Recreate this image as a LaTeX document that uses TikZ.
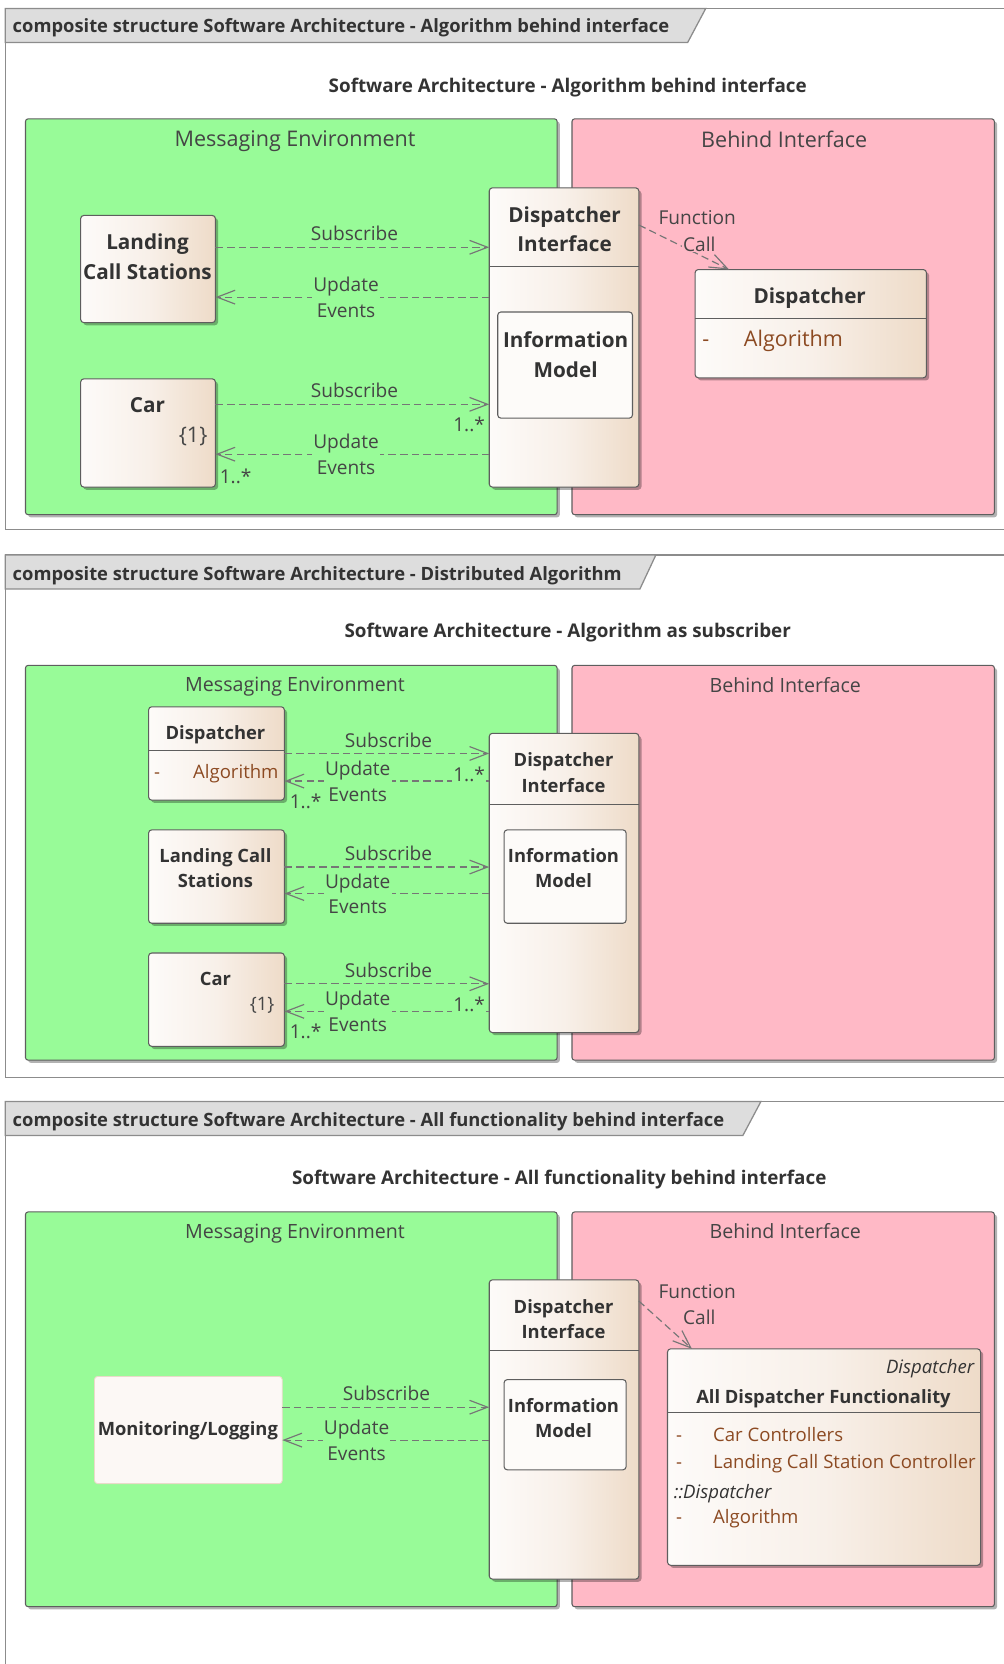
\documentclass[tikz,border=0pt]{standalone}
\usepackage{fontspec}
\setmainfont{Open Sans}
\usetikzlibrary{arrows.meta,shadows}

\definecolor{envgreen}{HTML}{98FB98}
\definecolor{behindpink}{HTML}{FFB9C6}
\definecolor{tabgray}{HTML}{DDDDDD}
\definecolor{framegray}{HTML}{8C8C8C}
\definecolor{edgegray}{HTML}{5E5E5E}
\definecolor{ink}{HTML}{333333}
\definecolor{inksoft}{HTML}{454545}
\definecolor{attr}{HTML}{8C4A22}
\definecolor{depgray}{HTML}{767676}
\definecolor{clsleft}{HTML}{FDFBF9}
\definecolor{clsmid}{HTML}{F8F0E9}
\definecolor{clsright}{HTML}{EEDBC8}
\definecolor{plainfill}{HTML}{FCF8F5}
\definecolor{plainedge}{HTML}{EADAC9}

% font sizes (1pt = 1 unit of the drawing)
\newcommand\tabfont{\bfseries\fontsize{17.3}{21}\selectfont}
\newcommand\titlefont{\bfseries\fontsize{17.75}{22}\selectfont}
\newcommand\envfontA{\fontsize{20.3}{26}\selectfont}
\newcommand\envfontB{\fontsize{18.5}{24}\selectfont}
\newcommand\elemfontA{\bfseries\fontsize{19.5}{28}\selectfont}
\newcommand\elemfontB{\bfseries\fontsize{17.3}{24}\selectfont}
\newcommand\attrfontA{\fontsize{20.3}{26}\selectfont}
\newcommand\attrfontB{\fontsize{17.5}{24}\selectfont}
\newcommand\lblfont{\fontsize{18}{24}\selectfont}

% a box node given by its corners: style, name, x1, y1, x2, y2
\newcommand\mkbox[6]{\node[#1, minimum width={#5-#3}, minimum height={#6-#4}] (#2) at ({(#3+#5)/2},{(#4+#6)/2}) {};}

\begin{document}
\begin{tikzpicture}[x=1pt,y=-1pt,
  boxbase/.style={rectangle, inner sep=0pt, outer sep=0pt},
  softshadow/.style={drop shadow={shadow xshift=2.5pt, shadow yshift=-2.5pt, fill=black, opacity=0.3}},
  frameline/.style={draw=framegray, line width=1.2pt},
  tabshape/.style={fill=tabgray, draw=framegray, line width=1.2pt, line join=miter},
  envbox/.style={boxbase, fill=envgreen, draw=edgegray, line width=1pt, rounded corners=2.5pt, softshadow},
  behindbox/.style={boxbase, fill=behindpink, draw=edgegray, line width=1pt, rounded corners=2.5pt, softshadow},
  classbox/.style={boxbase, draw=edgegray, line width=1pt, rounded corners=3pt, softshadow,
    left color=clsleft, right color=clsright, middle color=clsmid},
  partbox/.style={boxbase, fill=clsleft, draw=edgegray, line width=1pt, rounded corners=3pt},
  plainbox/.style={boxbase, fill=plainfill, draw=plainedge, line width=0.8pt, rounded corners=3pt},
  divider/.style={draw=edgegray, line width=1pt},
  txt/.style={inner sep=0pt, outer sep=0pt, text=ink, align=center, text depth=0pt},
  lbl/.style={txt, font=\lblfont, text=inksoft},
  mult/.style={txt, font=\lblfont, text=inksoft},
  dep/.style={draw=depgray, line width=1.1pt, dash pattern=on 7pt off 4pt,
    -{Straight Barb[length=17pt, width=13pt, line width=1.1pt]}},
]
\useasboundingbox (0,0) rectangle (946,1568);

%% ---------------- first frame ----------------
\draw[frameline] (960,8) -- (5,8) -- (5,499) -- (960,499);
\draw[tabshape] (5,8) -- (665,8) -- (648,40) -- (5,40) -- cycle;
\node[txt, anchor=west, font=\tabfont] (p1tab) at (12,24) {composite structure Software Architecture - Algorithm behind interface};
\node[txt, font=\titlefont] (p1title) at (535,80) {Software Architecture - Algorithm behind interface};

\mkbox{envbox}{p1env}{24}{112}{525}{485}
\mkbox{behindbox}{p1bhd}{539}{112}{937}{485}
\node[txt, font=\envfontA, text=inksoft] (p1envlbl) at (278,131) {Messaging Environment};
\node[txt, font=\envfontA, text=inksoft] (p1bhdlbl) at (739,131) {Behind Interface};

\mkbox{classbox}{p1lcs}{76}{203}{203}{304}
\node[txt, font=\elemfontA] (p1lcst) at (139,242) {Landing\\Call Stations};

\mkbox{classbox}{p1car}{76}{357}{203}{459}
\node[txt, font=\elemfontA] (p1cart) at (139,382) {Car};
\node[txt, font=\attrfontA, text=inksoft] (p1carm) at (182,410) {\{1\}};

\mkbox{classbox}{p1di}{461}{177}{602}{459}
\draw[divider] (461,251) -- (602,251);
\node[txt, font=\elemfontA] (p1dit) at (532,216) {Dispatcher\\Interface};
\mkbox{partbox}{p1im}{469}{294}{596}{394}
\node[txt, font=\elemfontA] (p1imt) at (533,334) {Information\\Model};

\mkbox{classbox}{p1disp}{655}{254}{873}{356}
\draw[divider] (655,300) -- (873,300);
\node[txt, font=\elemfontA] (p1dispt) at (763,279) {Dispatcher};
\node[txt, font=\attrfontA, text=attr, anchor=west] (p1alg) at (701,319) {Algorithm};
\node[txt, font=\attrfontA, text=attr, anchor=base] (p1dash) at (p1alg.base -| 665,0) {-};

% connectors
\coordinate (p1a) at ([yshift=20.5pt]p1lcs.east);
\draw[dep] (p1a) -- (p1a -| p1di.west) node[lbl, pos=.508, anchor=south, yshift=6pt] (p1l1) {Subscribe};
\coordinate (p1b) at ([yshift=-26.5pt]p1lcs.east);
\draw[dep] (p1b -| p1di.west) -- (p1b) node[lbl, fill=envgreen, inner sep=1pt, pos=.523] (p1l2) {Update\\Events};
\coordinate (p1e) at ([yshift=27pt]p1car.east);
\draw[dep] (p1e) -- (p1e -| p1di.west) node[lbl, pos=.508, anchor=south, yshift=6pt] (p1l3) {Subscribe}
  node[mult, pos=1, xshift=-19pt, yshift=-19pt] (p1m1) {1..*};
\coordinate (p1f) at ([yshift=-20pt]p1car.east);
\draw[dep] (p1f -| p1di.west) -- (p1f) node[lbl, fill=envgreen, inner sep=1pt, pos=.523] (p1l4) {Update\\Events}
  node[mult, pos=1, xshift=19pt, yshift=-21pt] (p1m2) {1..*};
\coordinate (p1c) at ([yshift=106pt]p1di.east);
\coordinate (p1d) at ([xshift=-77pt]p1disp.north);
\draw[dep] (p1c) -- (p1d) node[lbl, pos=.5, xshift=12.5pt, yshift=28pt] (p1l5) {Function}
  node[lbl, fill=behindpink, inner sep=1pt, pos=.5, xshift=14.5pt, yshift=3pt] (p1l6) {Call};

%% ---------------- second frame ----------------
\draw[frameline] (960,523) -- (5,523) -- (5,1015) -- (960,1015);
\draw[tabshape] (5,523) -- (618,523) -- (603,555) -- (5,555) -- cycle;
\node[txt, anchor=west, font=\tabfont] (p2tab) at (12,540) {composite structure Software Architecture - Distributed Algorithm};
\node[txt, font=\titlefont] (p2title) at (535,594) {Software Architecture - Algorithm as subscriber};

\mkbox{envbox}{p2env}{24}{627}{525}{999}
\mkbox{behindbox}{p2bhd}{539}{627}{937}{999}
\node[txt, font=\envfontB, text=inksoft] (p2envlbl) at (278,645) {Messaging Environment};
\node[txt, font=\envfontB, text=inksoft] (p2bhdlbl) at (740,645) {Behind Interface};

\mkbox{classbox}{p2disp}{140}{666}{268}{754}
\draw[divider] (140,707) -- (268,707);
\node[txt, font=\elemfontB] (p2dispt) at (203,690) {Dispatcher};
\node[txt, font=\attrfontB, text=attr, anchor=west] (p2alg) at (182,727) {Algorithm};
\node[txt, font=\attrfontB, text=attr, anchor=base] (p2dash) at (p2alg.base -| 148,0) {-};

\mkbox{classbox}{p2lcs}{140}{782}{268}{870}
\node[txt, font=\elemfontB] (p2lcst) at (203,818) {Landing Call\\Stations};

\mkbox{classbox}{p2car}{140}{898}{268}{986}
\node[txt, font=\elemfontB] (p2cart) at (203,922) {Car};
\node[txt, font=\attrfontB, text=inksoft] (p2carm) at (247,946) {\{1\}};

\mkbox{classbox}{p2di}{461}{691}{602}{973}
\draw[divider] (461,758) -- (602,758);
\node[txt, font=\elemfontB] (p2dit) at (531,728) {Dispatcher\\Interface};
\mkbox{partbox}{p2im}{475}{782}{590}{870}
\node[txt, font=\elemfontB] (p2imt) at (531,818) {Information\\Model};

% connectors
\coordinate (p2a) at (p2disp.east);
\draw[dep] (p2a) -- (p2a -| p2di.west) node[lbl, pos=.508, anchor=south, yshift=6pt] (p2l1) {Subscribe};
\coordinate (p2b) at ([yshift=-26pt]p2disp.east);
\draw[dep] (p2b -| p2di.west) -- (p2b) node[lbl, fill=envgreen, inner sep=1pt, pos=.642] (p2l2) {Update\\Events}
  node[mult, fill=envgreen, inner sep=1pt, pos=0, xshift=-19pt, yshift=6pt] (p2m1) {1..*}
  node[mult, pos=1, xshift=20pt, yshift=-19pt] (p2m2) {1..*};
\coordinate (p2e) at ([yshift=9pt]p2lcs.east);
\draw[dep] (p2e) -- (p2e -| p2di.west) node[lbl, pos=.508, anchor=south, yshift=6pt] (p2l3) {Subscribe};
\coordinate (p2f) at ([yshift=-16pt]p2lcs.east);
\draw[dep] (p2f -| p2di.west) -- (p2f) node[lbl, fill=envgreen, inner sep=1pt, pos=.642] (p2l4) {Update\\Events};
\coordinate (p2g) at ([yshift=15pt]p2car.east);
\draw[dep] (p2g) -- (p2g -| p2di.west) node[lbl, pos=.508, anchor=south, yshift=6pt] (p2l5) {Subscribe};
\coordinate (p2h) at ([yshift=-11pt]p2car.east);
\draw[dep] (p2h -| p2di.west) -- (p2h) node[lbl, fill=envgreen, inner sep=1pt, pos=.642] (p2l6) {Update\\Events}
  node[mult, fill=envgreen, inner sep=1pt, pos=0, xshift=-19pt, yshift=7pt] (p2m3) {1..*}
  node[mult, pos=1, xshift=20pt, yshift=-19pt] (p2m4) {1..*};

%% ---------------- third frame ----------------
\draw[frameline] (960,1038) -- (5,1038) -- (5,1600);
\draw[tabshape] (5,1038) -- (717,1038) -- (700,1070) -- (5,1070) -- cycle;
\node[txt, anchor=west, font=\tabfont] (p3tab) at (12,1055) {composite structure Software Architecture - All functionality behind interface};
\node[txt, font=\titlefont] (p3title) at (527,1109) {Software Architecture - All functionality behind interface};

\mkbox{envbox}{p3env}{24}{1142}{525}{1514}
\mkbox{behindbox}{p3bhd}{539}{1142}{937}{1514}
\node[txt, font=\envfontB, text=inksoft] (p3envlbl) at (278,1160) {Messaging Environment};
\node[txt, font=\envfontB, text=inksoft] (p3bhdlbl) at (740,1160) {Behind Interface};

\mkbox{plainbox}{p3mon}{89}{1297}{266}{1398}
\node[txt, font=\elemfontB] (p3mont) at (177,1346) {Monitoring/Logging};

\mkbox{classbox}{p3di}{461}{1206}{602}{1488}
\draw[divider] (461,1273) -- (602,1273);
\node[txt, font=\elemfontB] (p3dit) at (531,1243) {Dispatcher\\Interface};
\mkbox{partbox}{p3im}{475}{1300}{590}{1385}
\node[txt, font=\elemfontB] (p3imt) at (531,1336) {Information\\Model};

\mkbox{classbox}{p3adf}{629}{1271}{924}{1475}
\draw[divider] (629,1331) -- (924,1331);
\node[txt, font=\attrfontB\itshape, anchor=east] (p3stereo) at (918,1288) {Dispatcher};
\node[txt, font=\elemfontB] (p3adft) at (776,1316) {All Dispatcher Functionality};
\node[txt, font=\attrfontB, text=attr, anchor=west] (p3a1) at (672,1352) {Car Controllers};
\node[txt, font=\attrfontB, text=attr, anchor=base] (p3d1) at (p3a1.base -| 640,0) {-};
\node[txt, font=\attrfontB, text=attr, anchor=west] (p3a2) at (672,1377) {Landing Call Station Controller};
\node[txt, font=\attrfontB, text=attr, anchor=base] (p3d2) at (p3a2.base -| 640,0) {-};
\node[txt, font=\attrfontB\itshape, anchor=west] (p3inh) at (635,1405) {::Dispatcher};
\node[txt, font=\attrfontB, text=attr, anchor=west] (p3a3) at (672,1429) {Algorithm};
\node[txt, font=\attrfontB, text=attr, anchor=base] (p3d3) at (p3a3.base -| 640,0) {-};

% connectors
\coordinate (p3a) at ([yshift=21.5pt]p3mon.east);
\draw[dep] (p3a) -- (p3a -| p3di.west) node[lbl, pos=.503, anchor=south, yshift=6pt] (p3l1) {Subscribe};
\coordinate (p3b) at ([yshift=-9.5pt]p3mon.east);
\draw[dep] (p3b -| p3di.west) -- (p3b) node[lbl, fill=envgreen, inner sep=1pt, pos=.641] (p3l2) {Update\\Events};
\coordinate (p3c) at ([yshift=121pt]p3di.east);
\coordinate (p3d) at ([xshift=-124.5pt]p3adf.north);
\draw[dep] (p3c) -- (p3d) node[lbl, pos=.5, xshift=30pt, yshift=31.5pt] (p3l3) {Function}
  node[lbl, pos=.5, xshift=32pt, yshift=7.5pt] (p3l4) {Call};
\end{tikzpicture}
\end{document}
